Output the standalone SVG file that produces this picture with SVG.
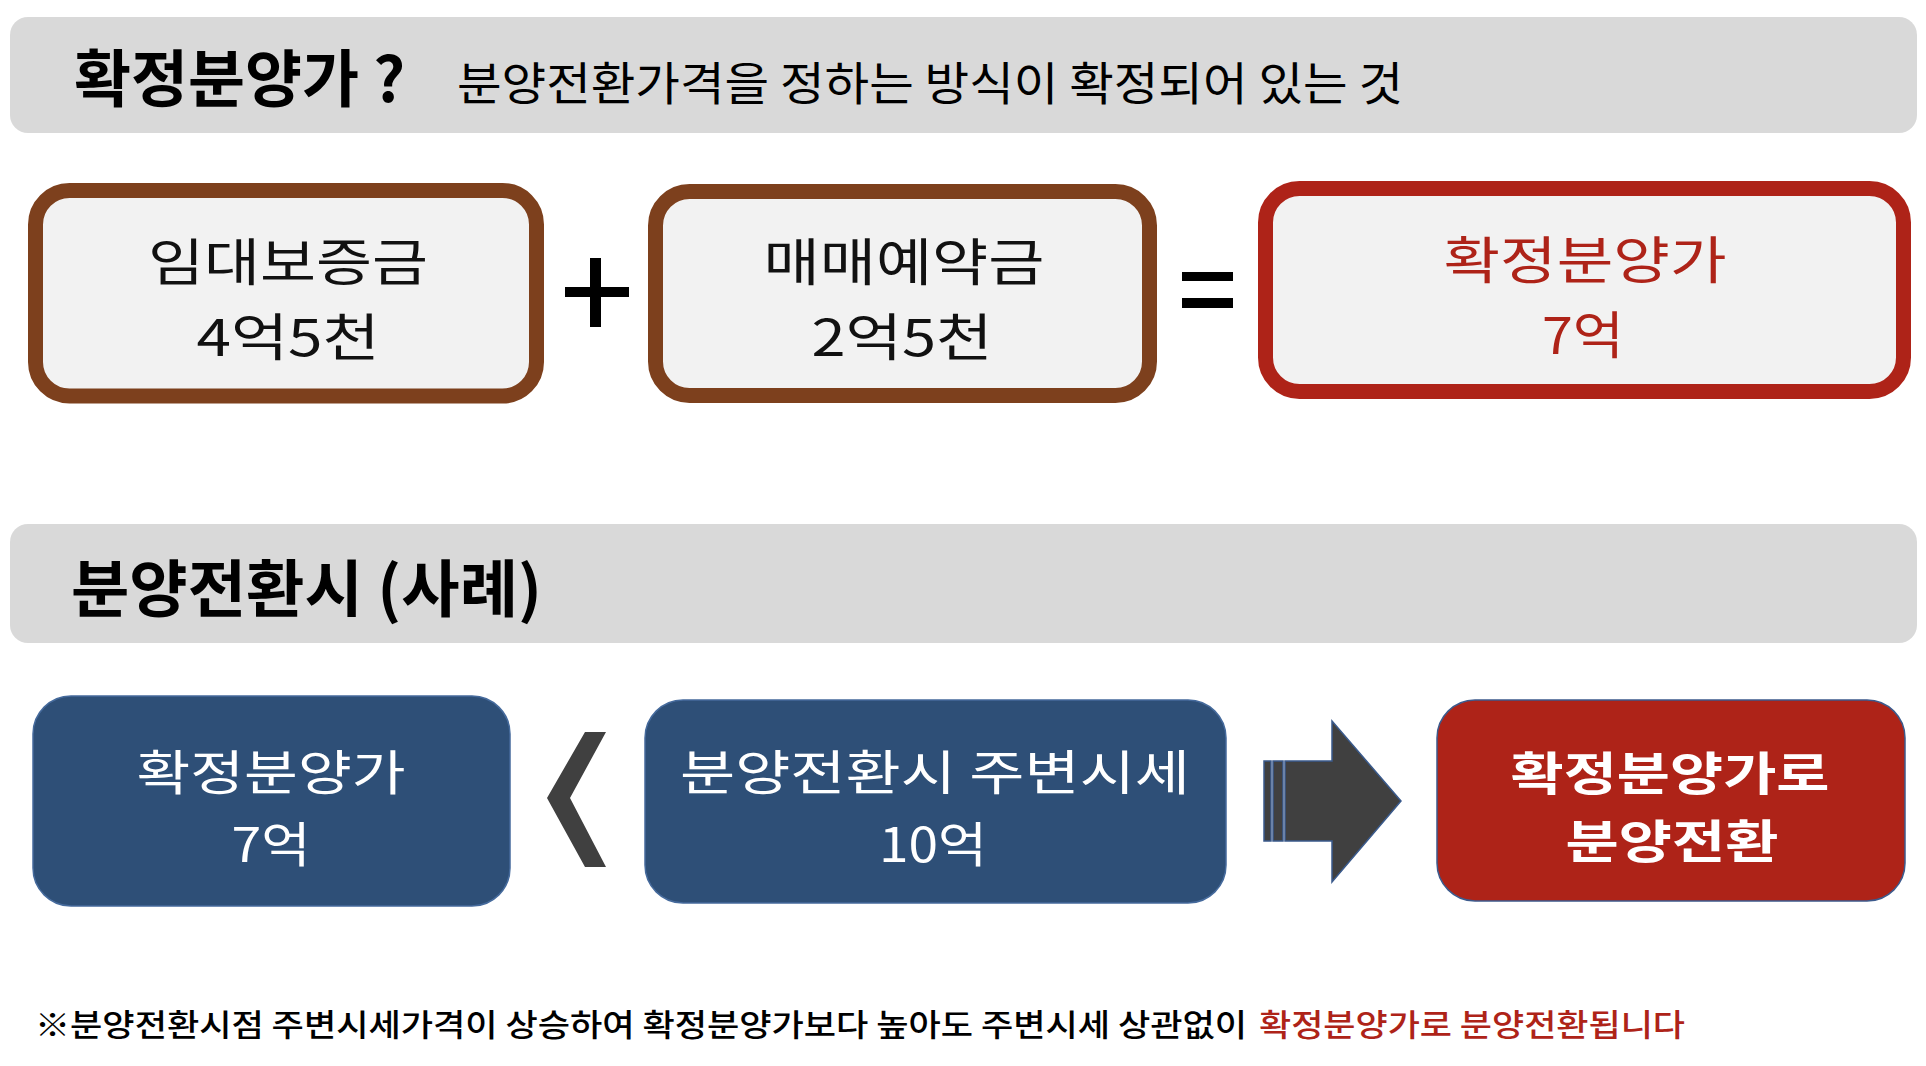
<svg xmlns="http://www.w3.org/2000/svg" width="1926" height="1066" viewBox="0 0 1926 1066">
<style>
.kr{font-family:"Noto Sans CJK KR","Noto Sans",sans-serif}
.banner{fill:#d9d9d9}
.brown{fill:#f2f2f2;stroke:#7d401d;stroke-width:15}
.redb{fill:#f2f2f2;stroke:#ae2318;stroke-width:15}
.navy{fill:#2e4f77;stroke:#456a9c;stroke-width:1.5}
.redf{fill:#ae2318;stroke:#3c5a8c;stroke-width:1.5}
.dark{fill:#404040}
.t51{font-size:51px;text-anchor:middle;fill:#111}
.w48{font-size:48px;text-anchor:middle;fill:#fff}
.w46{font-size:46px;text-anchor:middle;fill:#fff;font-weight:bold}
</style>
<rect width="1926" height="1066" fill="#ffffff"/>
<g id="banner1">
<rect class="banner" x="10" y="17" width="1907" height="116" rx="18"/>
<text class="kr" x="74" y="102" font-size="62" font-weight="bold" fill="#000" textLength="331" lengthAdjust="spacingAndGlyphs">확정분양가 ?</text>
<text class="kr" x="457" y="100" font-size="46" fill="#000" textLength="946" lengthAdjust="spacingAndGlyphs">분양전환가격을 정하는 방식이 확정되어 있는 것</text>
</g>
<g id="box-deposit">
<rect class="brown" x="35.5" y="190.5" width="501" height="205.5" rx="34"/>
<text class="kr t51" x="288" y="281" textLength="280" lengthAdjust="spacingAndGlyphs">임대보증금</text>
<text class="kr t51" x="288" y="356" textLength="183" lengthAdjust="spacingAndGlyphs">4억5천</text>
</g>
<g id="plus">
<rect x="565" y="287" width="64" height="10" fill="#000"/>
<rect x="590" y="258" width="11" height="69" fill="#000"/>
</g>
<g id="box-down">
<rect class="brown" x="655.5" y="191.5" width="494" height="204" rx="34"/>
<text class="kr t51" x="904" y="281" textLength="281" lengthAdjust="spacingAndGlyphs">매매예약금</text>
<text class="kr t51" x="902" y="356" textLength="181" lengthAdjust="spacingAndGlyphs">2억5천</text>
</g>
<g id="equals">
<rect x="1182" y="272" width="51" height="9" fill="#000"/>
<rect x="1182" y="298" width="51" height="10" fill="#000"/>
</g>
<g id="box-fixed">
<rect class="redb" x="1265.5" y="188.5" width="638" height="203" rx="34"/>
<text class="kr t51" x="1585" y="279" style="fill:#ae2318" textLength="283" lengthAdjust="spacingAndGlyphs">확정분양가</text>
<text class="kr t51" x="1583" y="354" style="fill:#ae2318" textLength="82" lengthAdjust="spacingAndGlyphs">7억</text>
</g>
<g id="banner2">
<rect class="banner" x="10" y="524" width="1907" height="119" rx="18"/>
<text class="kr" x="71" y="612" font-size="62" font-weight="bold" fill="#000" textLength="471" lengthAdjust="spacingAndGlyphs">분양전환시 (사례)</text>
</g>
<g id="box-a">
<rect class="navy" x="33" y="696" width="477" height="210" rx="38"/>
<text class="kr w48" x="271" y="790" textLength="269" lengthAdjust="spacingAndGlyphs">확정분양가</text>
<text class="kr w48" x="271" y="862" textLength="79" lengthAdjust="spacingAndGlyphs">7억</text>
</g>
<g id="box-b">
<rect class="navy" x="645" y="700" width="581" height="203" rx="38"/>
<text class="kr w48" x="935" y="790" textLength="510" lengthAdjust="spacingAndGlyphs">분양전환시 주변시세</text>
<text class="kr w48" x="933" y="862" textLength="108" lengthAdjust="spacingAndGlyphs">10억</text>
</g>
<g id="box-c">
<rect class="redf" x="1437" y="700" width="468" height="201" rx="38"/>
<text class="kr w46" x="1670" y="790" textLength="319" lengthAdjust="spacingAndGlyphs">확정분양가로</text>
<text class="kr w46" x="1672" y="858" textLength="213" lengthAdjust="spacingAndGlyphs">분양전환</text>
</g>
<g id="connectors">
<polygon class="dark" points="585,732 606,732 570,798 606,867 585,867 547,798"/>
<g fill="#404040" stroke="#3a5a8c" stroke-width="1.5">
<rect x="1264" y="761" width="7" height="80"/>
<rect x="1273" y="761" width="10" height="80"/>
<polygon points="1285,761 1332,761 1332,721 1401,801 1332,882 1332,841 1285,841"/>
</g>
</g>
<g id="note">
<text class="kr" x="35" y="1036" font-size="31" font-weight="500" fill="#000" textLength="1212" lengthAdjust="spacingAndGlyphs">※분양전환시점 주변시세가격이 상승하여 확정분양가보다 높아도 주변시세 상관없이</text>
<text class="kr" x="1259" y="1036" font-size="31" font-weight="500" fill="#ae2318" textLength="426" lengthAdjust="spacingAndGlyphs">확정분양가로 분양전환됩니다</text>
</g>
</svg>
